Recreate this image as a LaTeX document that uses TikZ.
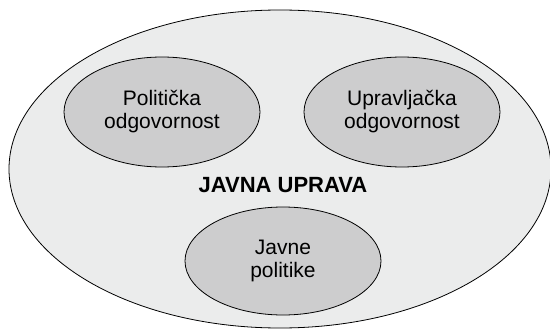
\documentclass[tikz,border=0pt]{standalone}
\usepackage{fontspec}
\setmainfont{Liberation Sans}
\usetikzlibrary{shapes.geometric}
\definecolor{outerfill}{HTML}{EBECEC}
\definecolor{innerfill}{HTML}{CDCDCE}
\begin{document}
\begin{tikzpicture}[x=1pt,y=-1pt,
  field/.style={ellipse, draw=black, line width=0.8pt, inner sep=0pt},
  area/.style={field, fill=innerfill, minimum width=196pt, minimum height=110pt,
    align=center, font=\fontsize{21}{23}\selectfont},
  title/.style={font=\fontsize{22}{24}\selectfont\bfseries}]
  \useasboundingbox (0,0) rectangle (550,329);
  % public administration as the enclosing field
  \node[field, fill=outerfill, minimum width=542pt, minimum height=318pt] (uprava) at (280,169) {};
  \node[area] (politicka) at (162,112) {Politička\\odgovornost};
  \node[area] (upravljacka) at (402,112) {Upravljačka\\odgovornost};
  \node[area, minimum height=108pt] (politike) at (283,261) {Javne\\politike};
  \node[title, anchor=base] (naslov) at (283,193) {JAVNA UPRAVA};
\end{tikzpicture}
\end{document}
